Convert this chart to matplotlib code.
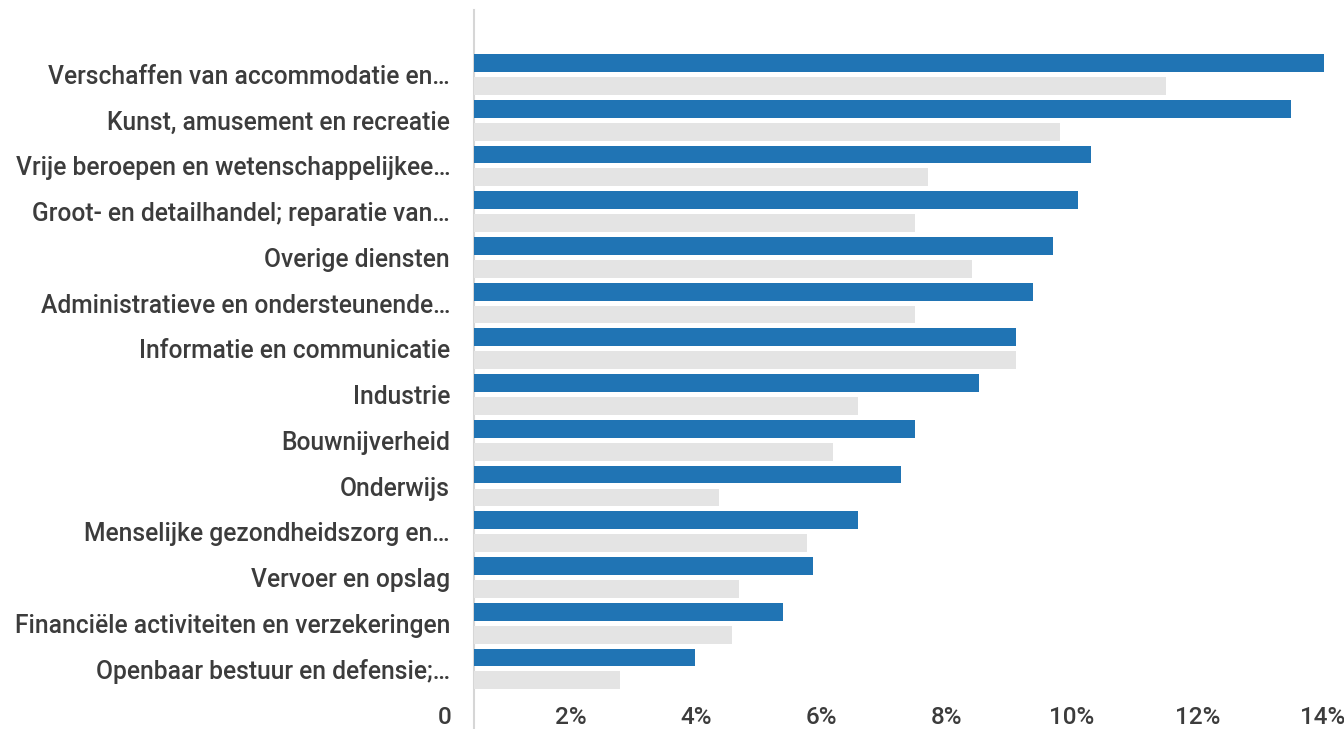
import matplotlib
matplotlib.use("Agg")
import matplotlib.pyplot as plt
import numpy as np

plt.rcParams["font.family"] = ["Roboto", "DejaVu Sans"]

sectors = [
    "Verschaffen van accommodatie en…",
    "Kunst, amusement en recreatie",
    "Vrije beroepen en wetenschappelijkee…",
    "Groot- en detailhandel; reparatie van…",
    "Overige diensten",
    "Administratieve en ondersteunende…",
    "Informatie en communicatie",
    "Industrie",
    "Bouwnijverheid",
    "Onderwijs",
    "Menselijke gezondheidszorg en…",
    "Vervoer en opslag",
    "Financiële activiteiten en verzekeringen",
    "Openbaar bestuur en defensie;…",
]
# percentages
blue_values = [14.02, 13.49, 10.30, 10.10, 9.70, 9.38, 9.11, 8.52, 7.50, 7.27, 6.59, 5.87, 5.39, 3.99]
gray_values = [11.50, 9.81, 7.70, 7.50, 8.41, 7.50, 9.11, 6.59, 6.19, 4.37, 5.77, 4.69, 4.58, 2.79]
tick_values = [0, 2, 4, 6, 8, 10, 12, 14]
tick_labels = ["0", "2%", "4%", "6%", "8%", "10%", "12%", "14%"]

BLUE = "#2074b4"
GRAY = "#e4e4e4"
TEXT = "#3c3c3c"
AXIS_START = 0.4625  # bars and axis line start a little right of the 0 label

W, H = 1344, 729
fig = plt.figure(figsize=(W / 100, H / 100), dpi=100)
ax = fig.add_axes([440 / W, 29 / H, 900 / W, 690 / H])

y = np.arange(len(sectors))
ax.barh(y - 0.25, np.array(blue_values) - AXIS_START, left=AXIS_START, height=0.39, color=BLUE)
ax.barh(y + 0.25, np.array(gray_values) - AXIS_START, left=AXIS_START, height=0.39, color=GRAY)

ax.set_xlim(-5 / 62.7, 895 / 62.7)
ax.set_ylim(13.68, -1.41)

ax.axvline(AXIS_START, ymin=-0.042, ymax=1, color="#d6d6d6", lw=1.5, clip_on=False, zorder=0)

ax.set_yticks(y)
ax.set_yticklabels(sectors, fontsize=17.7, fontweight="medium", color=TEXT)
ax.tick_params(axis="y", length=0, pad=-7.2)
for lab in ax.get_yticklabels():
    lab.set_horizontalalignment("right")

ax.set_xticks(tick_values)
ax.set_xticklabels(tick_labels, fontsize=17.5, fontweight="medium", color=TEXT)
ax.tick_params(axis="x", length=0, pad=4.0)

for s in ax.spines.values():
    s.set_visible(False)

fig.savefig("out.png", dpi=100)
